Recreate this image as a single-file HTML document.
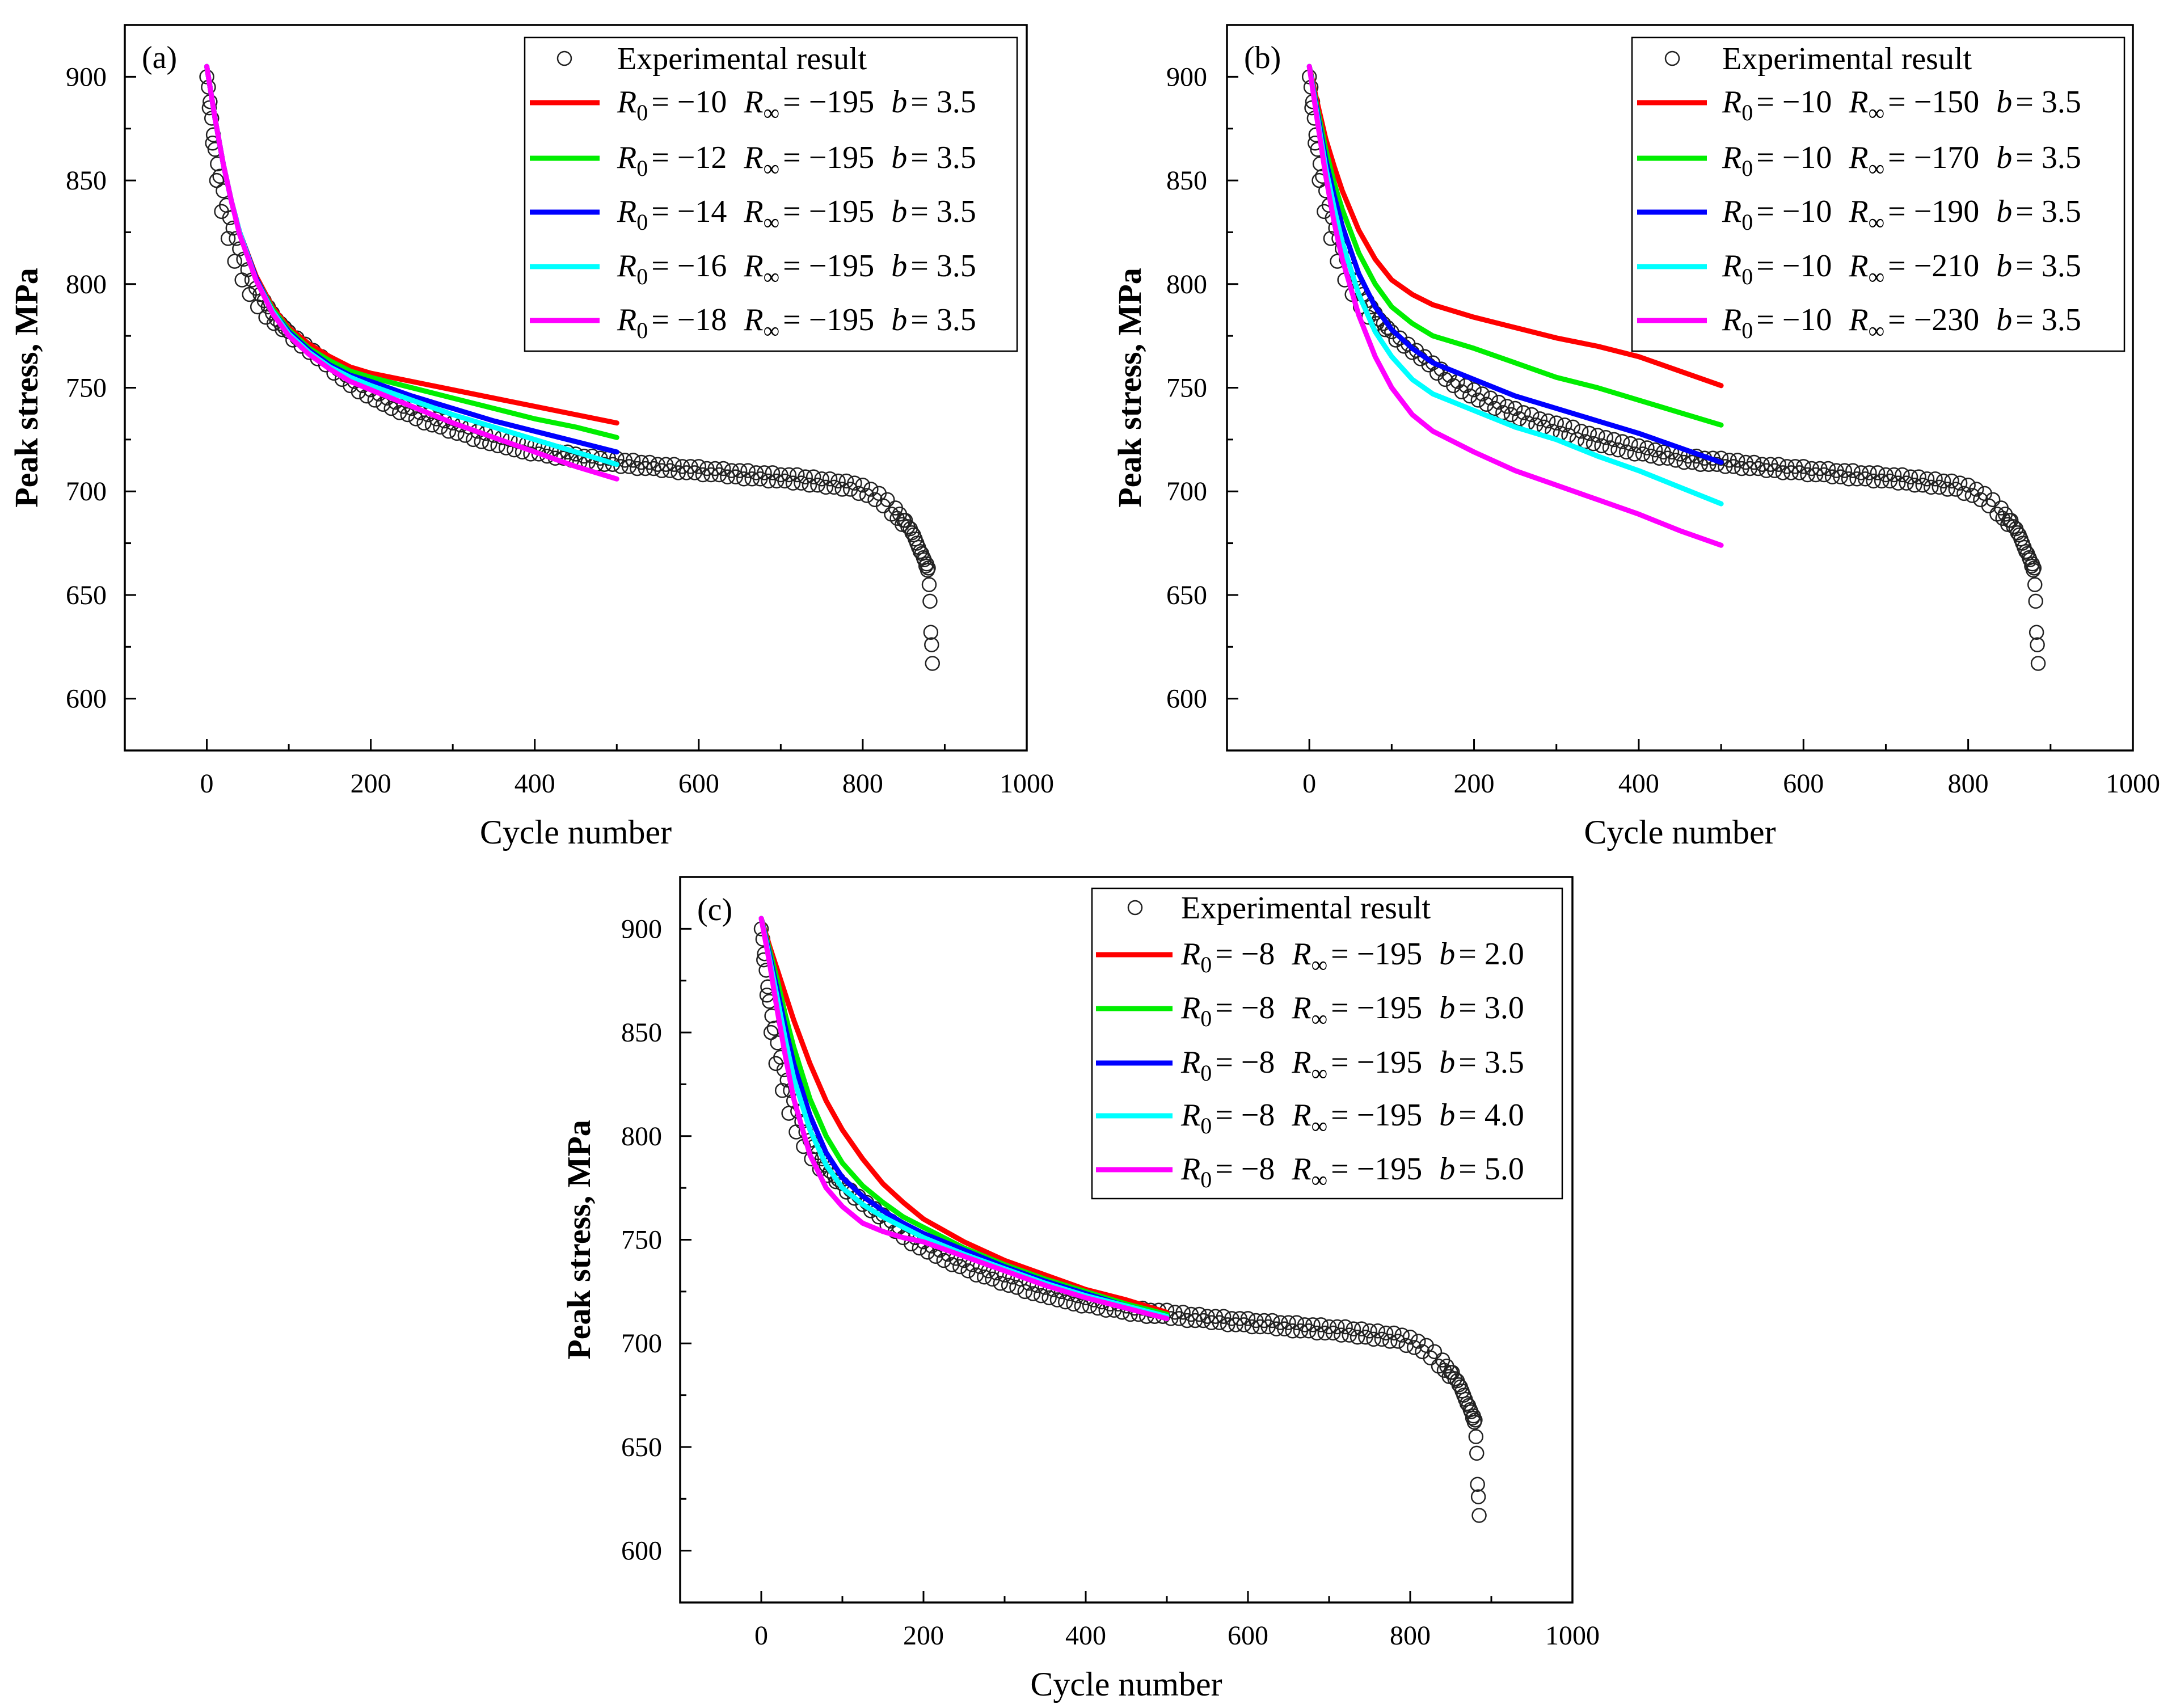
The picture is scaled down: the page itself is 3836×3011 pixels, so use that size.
<!DOCTYPE html>
<html><head><meta charset="utf-8"><style>
html,body{margin:0;padding:0;background:#fff}
svg{display:block}
text{font-family:"Liberation Serif",serif;fill:#000}
</style></head><body>
<svg id="fig" width="3836" height="3011" viewBox="0 0 3836 3011" xmlns="http://www.w3.org/2000/svg"></svg>
<script>
// ---------- data ----------
const expCycles = [0,2,4,6,8,10,13,16,20,24,28,32,36,40,45,50,55,60,65,70,75,80,85,90,95,100,110,120,130,140,150,160,170,180,190,200,210,220,230,240,250,260,270,280,290,300,310,320,330,340,350,360,370,380,390,400,410,420,430,440,450,460,470,480,490,500,510,520,530,540,550,560,570,580,590,600,610,620,630,640,650,660,670,680,690,700,710,720,730,740,750,760,770,780,790,800,810,820,830,840,845,850,855,860,864,868,872,875,877,879,880,881,882,883,884,885];
const expStress = [900,895,888,880,872,865,858,852,845,838,832,827,822,817,812,807,802,798,795,792,789,786,783,781,779,777,774,771,768,765,762,759,756,753,751,749,747,745,743,741,740,738,737,735,734,733,732,731,729,728,727,726,725,724,723,722,721,720,719,719,718,717,717,716,716,716,715,715,714,714,713,713,713,712,712,712,711,711,711,710,710,710,709,709,709,708,708,708,707,707,706,706,705,705,704,703,701,699,696,692,689,686,683,680,677,673,670,667,664,662,663,655,647,632,626,617];
// scatter band (second reading of the cloud, slightly offset)
const expCycles2 = [3,7,12,18,26,34,43,52,62,72,82,92,105,115,125,135,145,155,165,175,185,195,205,215,225,235,245,255,265,275,285,295,305,315,325,335,345,355,365,375,385,395,405,415,425,435,445,455,465,475,485,495,505,515,525,535,545,555,565,575,585,595,605,615,625,635,645,655,665,675,685,695,705,715,725,735,745,755,765,775,785,795,805,815,825,835,842,848,852,858,862,866,870,874,878];
const expStress2 = [885,868,850,835,822,811,802,795,789,784,781,778,773,770,767,764,761,757,754,751,748,746,744,742,740,738,737,735,733,732,731,729,728,727,725,724,723,722,721,720,719,718,718,717,716,716,715,714,714,713,713,713,712,712,711,711,711,710,710,709,709,709,708,708,708,707,707,706,706,706,705,705,705,704,704,703,703,702,702,701,701,699,698,696,693,689,687,684,686,682,679,675,671,668,665];

const fitCycles = [0,10,20,30,40,60,80,100,125,150,175,200,250,300,350,400,450,500];
// panel (a): R0 varies
const aRed     = [905,880,858,840,825,804,789,779,771,765,760,757,753,749,745,741,737,733];
const aGreen   = [905,880,858,840,825,803,788,778,769,763,758,755,750,745,740,735,731,726];
const aBlue    = [905,880,858,840,825,803,787,777,768,761,756,753,746,740,734,729,724,719];
const aCyan    = [905,880,858,840,825,802,787,776,767,760,755,751,744,737,731,725,719,713];
const aMagenta = [905,880,858,840,824,802,786,775,766,759,753,749,741,733,726,719,712,706];
// panel (b): R_inf varies
const bRed     = [905,887,870,857,845,826,812,802,795,790,787,784,779,774,770,765,758,751];
const bGreen   = [905,884,865,849,836,815,800,789,781,775,772,769,762,755,750,744,738,732];
const bBlue    = [905,882,860,843,828,805,789,778,769,762,758,754,746,740,734,728,721,714];
const bCyan    = [905,880,856,837,820,795,777,765,754,747,743,739,731,725,717,710,702,694];
const bMagenta = [905,878,852,830,812,785,765,750,737,729,724,719,710,703,696,689,681,674];
// panel (c): b varies
const cRed     = [905,892,880,868,856,835,817,803,789,777,768,760,749,740,733,726,721,715];
const cGreen   = [905,890,875,858,843,818,800,787,776,768,761,756,746,738,731,725,719,714];
const cBlue    = [905,888,870,852,835,810,792,780,771,764,758,753,745,737,730,724,718,713];
const cCyan    = [905,886,866,846,828,803,786,775,767,761,756,751,743,736,729,723,718,713];
const cMagenta = [905,884,860,838,818,791,775,766,758,754,751,749,742,735,728,722,717,712];

const xTicks = [0,200,400,600,800,1000];
const yTicks = [600,650,700,750,800,850,900];
const seriesColors = ['#ff0000','#00ee00','#0000ff','#00ffff','#ff00ff'];

const legA = [['−10','−195','3.5'],['−12','−195','3.5'],['−14','−195','3.5'],['−16','−195','3.5'],['−18','−195','3.5']];
const legB = [['−10','−150','3.5'],['−10','−170','3.5'],['−10','−190','3.5'],['−10','−210','3.5'],['−10','−230','3.5']];
const legC = [['−8','−195','2.0'],['−8','−195','3.0'],['−8','−195','3.5'],['−8','−195','4.0'],['−8','−195','5.0']];

// ---------- drawing ----------
const NS='http://www.w3.org/2000/svg';
const svg=document.getElementById('fig');
function mk(tag,attrs,parent){const e=document.createElementNS(NS,tag);for(const k in attrs)e.setAttribute(k,attrs[k]);(parent||svg).appendChild(e);return e;}

const panels=[
 {id:'a',L:220,R:1810,T:44,B:1323,series:[aRed,aGreen,aBlue,aCyan,aMagenta],leg:legA,
  lx:925,lw:868,ly:66,lh:553,rows:[105,181,279,374,470,565],sx:934,sw:123,tx:1088,cx:995,ytx:188,yttl:66},
 {id:'b',L:2163,R:3760,T:44,B:1323,series:[bRed,bGreen,bBlue,bCyan,bMagenta],leg:legB,
  lx:2877,lw:868,ly:66,lh:553,rows:[105,181,279,374,470,565],sx:2886,sw:123,tx:3036,cx:2948,ytx:2128,yttl:2011},
 {id:'c',L:1199,R:2772,T:1546,B:2825,series:[cRed,cGreen,cBlue,cCyan,cMagenta],leg:legC,
  lx:1925,lw:829,ly:1566,lh:547,rows:[1602,1683,1778,1874,1967,2062],sx:1932,sw:135,tx:2082,cx:2001,ytx:1167,yttl:1040}
];

panels.forEach(p=>{
 const g=mk('g',{});
 
 
 const xs=v=>p.L+(v+100)/1100*(p.R-p.L);
 const ys=v=>p.B-(v-575)/350*(p.B-p.T);
 const fr=mk('rect',{x:p.L,y:p.T,width:p.R-p.L,height:p.B-p.T,fill:'none',stroke:'#000','stroke-width':3.5},g);
 
 
 for(let v=0;v<=900;v+=100){
  const major=v%200===0;
  mk('line',{x1:xs(v),x2:xs(v),y1:p.B,y2:p.B-(major?20:11),stroke:'#000','stroke-width':3},g);
 }
 xTicks.forEach(v=>{
  const t=mk('text',{x:xs(v),y:p.B+74,'text-anchor':'middle','font-size':48},g);
  t.textContent=v;
  
  
 });
 for(let v=600;v<=900;v+=25){
  const major=v%50===0;
  mk('line',{x1:p.L,x2:p.L+(major?20:11),y1:ys(v),y2:ys(v),stroke:'#000','stroke-width':3},g);
 }
 yTicks.forEach(v=>{
  const t=mk('text',{x:p.ytx,y:ys(v)+16,'text-anchor':'end','font-size':48},g);
  t.textContent=v;
  
  
 });
 const xt=mk('text',{x:(p.L+p.R)/2,y:p.B+164,'text-anchor':'middle','font-size':60},g);
 xt.textContent='Cycle number';
 
 
 const yt=mk('text',{x:p.yttl,y:(p.T+p.B)/2,'text-anchor':'middle','font-size':58,'font-weight':'bold',transform:`rotate(-90 ${p.yttl} ${(p.T+p.B)/2})`},g);
 yt.textContent='Peak stress, MPa';
 
 
 const pl=mk('text',{x:p.L+30,y:p.T+76,'font-size':56},g);
 pl.textContent='('+p.id+')';
 
 
 const eg=mk('g',{},g);
 
 
 expCycles.forEach((c,i)=>{
  const ci=mk('circle',{cx:xs(c),cy:ys(expStress[i]),r:12,fill:'none',stroke:'#222','stroke-width':2.5},eg);
  
  
 });
 expCycles2.forEach((c,i)=>{
  const ci=mk('circle',{cx:xs(c),cy:ys(expStress2[i]),r:12,fill:'none',stroke:'#222','stroke-width':2.5},eg);
  
  
 });
 p.series.forEach((s,k)=>{
  const d=fitCycles.map((c,i)=>(i?'L':'M')+xs(c).toFixed(1)+' '+ys(s[i]).toFixed(1)).join(' ');
  const path=mk('path',{d:d,fill:'none',stroke:seriesColors[k],'stroke-width':9,'stroke-linejoin':'round','stroke-linecap':'round'},g);
  
  
 });
 const lg=mk('g',{},g);
 
 
 mk('rect',{x:p.lx,y:p.ly,width:p.lw,height:p.lh,fill:'#fff',stroke:'#000','stroke-width':2.5},lg);
 mk('circle',{cx:p.cx,cy:p.rows[0]-2,r:12,fill:'none',stroke:'#222','stroke-width':2.5},lg);
 const t0=mk('text',{x:p.tx,y:p.rows[0]+17,'font-size':56},lg);
 t0.textContent='Experimental result';
 
 
 p.leg.forEach((r,k)=>{
  const y=p.rows[k+1];
  mk('line',{x1:p.sx,x2:p.sx+p.sw,y1:y,y2:y,stroke:seriesColors[k],'stroke-width':9},lg);
  const t=mk('text',{x:p.tx,y:y+17,'font-size':56},lg);
  
  
  t.innerHTML=`<tspan font-style="italic">R</tspan><tspan font-size="40" dy="14">0</tspan><tspan dy="-14" dx="6">= ${r[0]}</tspan><tspan font-style="italic" dx="30">R</tspan><tspan font-size="40" dy="14">∞</tspan><tspan dy="-14" dx="6">= ${r[1]}</tspan><tspan font-style="italic" dx="30">b</tspan><tspan dx="6">= ${r[2]}</tspan>`;
 });
});
</script>
</body></html>
